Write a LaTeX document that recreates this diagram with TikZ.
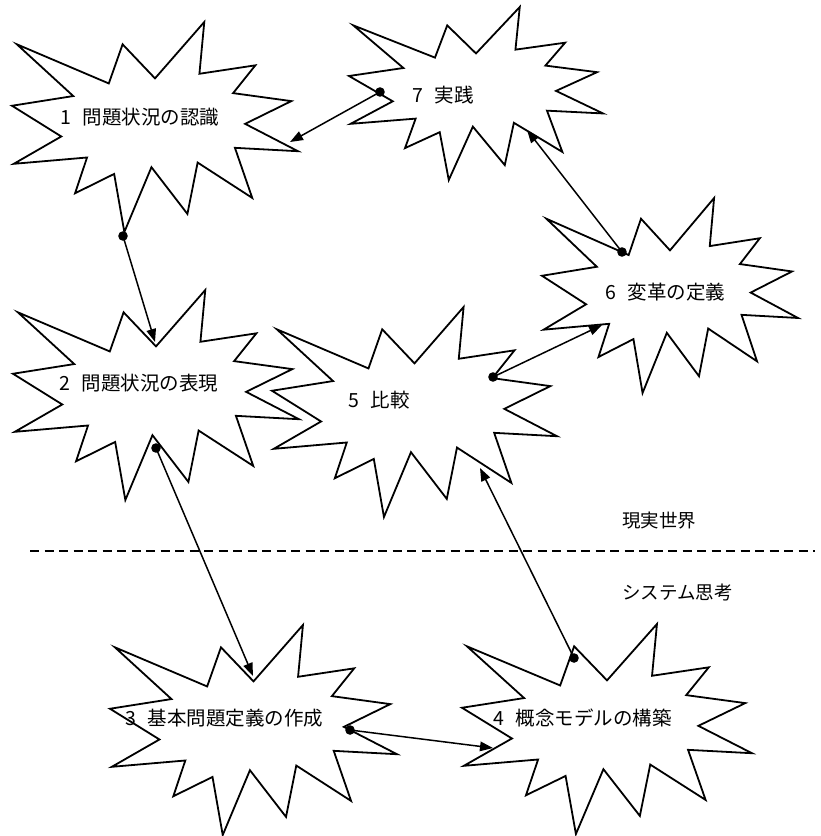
\documentclass[tikz,border=0pt]{standalone}
\usepackage{fontspec}
\newfontfamily\cjk{Noto Sans CJK JP}
\usetikzlibrary{arrows.meta}
\newcommand\boom[4]{%
  \draw[starline,shift={(#1,#2)},xscale=#3,yscale=#4]
  (0.5,0.2685) -- (0.6723,0) -- (0.6553,0.2465) -- (0.8509,0.2063) -- (0.7732,0.3387) --
  (0.9767,0.3767) -- (0.8151,0.4850) -- (1,0.6153) -- (0.7795,0.5992) -- (0.8400,0.8377) --
  (0.6491,0.6693) -- (0.6133,0.9138) -- (0.4876,0.6914) -- (0.3928,1) -- (0.3572,0.7235) --
  (0.2205,0.8156) -- (0.2624,0.6452) -- (0.0063,0.6753) -- (0.1723,0.5451) -- (0,0.3988) --
  (0.2142,0.3526) -- (0.0171,0.1063) -- (0.3385,0.2926) -- (0.3867,0.1063) -- cycle;}
\begin{document}
\begin{tikzpicture}[x=1pt,y=-1pt,
  starline/.style={draw=black,line width=1.8pt},
  link/.style={draw=black,line width=1.5pt,-{Triangle[length=13pt,width=9.5pt]}},
  dotmark/.style={fill=black},
  lbl/.style={font=\cjk\fontsize{19.5}{22}\selectfont,anchor=west,inner sep=0pt},
  side/.style={font=\cjk\fontsize{18.5}{22}\selectfont,anchor=west,inner sep=0pt},
  divider/.style={draw=black,line width=2pt,dash pattern=on 9pt off 5.5pt}]
\useasboundingbox (0,0) rectangle (821,836);
% explosion shapes
\boom{12}{22}{286}{210}
\boom{349}{7}{254}{173}
\boom{542}{198}{256}{195}
\boom{13}{290}{286}{210}
\boom{272}{307}{285}{210}
\boom{110}{625}{287}{210}
\boom{462}{624}{290}{210}
% labels
\node[lbl] (t1) at (60,117) {1\hspace{0.6em}問題状況の認識};
\node[lbl] (t7) at (412,95) {7\hspace{0.6em}実践};
\node[lbl] (t6) at (605,292) {6\hspace{0.6em}変革の定義};
\node[lbl] (t2) at (59,383) {2\hspace{0.6em}問題状況の表現};
\node[lbl] (t5) at (348,400) {5\hspace{0.6em}比較};
\node[lbl] (t3) at (125,718) {3\hspace{0.6em}基本問題定義の作成};
\node[lbl] (t4) at (493,718) {4\hspace{0.6em}概念モデルの構築};
\node[side] (real) at (622,521) {現実世界};
\node[side] (sys) at (622,592) {システム思考};
% divider
\coordinate (dl) at (30,551);
\coordinate (dr) at (815,551);
\draw[divider] (dl) -- (dr);
% connector points
\coordinate (c1s) at (123,236); \coordinate (c1e) at (155,342);
\coordinate (c7s) at (380,92);  \coordinate (c7e) at (290,142);
\coordinate (c6s) at (622,252); \coordinate (c6e) at (527,130);
\coordinate (c5s) at (493,377); \coordinate (c5e) at (602,325);
\coordinate (c2s) at (156,448); \coordinate (c2e) at (253,676);
\coordinate (c3s) at (350,730); \coordinate (c3e) at (493,748);
\coordinate (c4s) at (574,658); \coordinate (c4e) at (480,468);
\foreach \k in {1,7,6,5,2,3,4}{
  \draw[link] (c\k s) -- (c\k e);
  \fill[dotmark] (c\k s) circle (4.8pt);
}
\end{tikzpicture}
\end{document}
